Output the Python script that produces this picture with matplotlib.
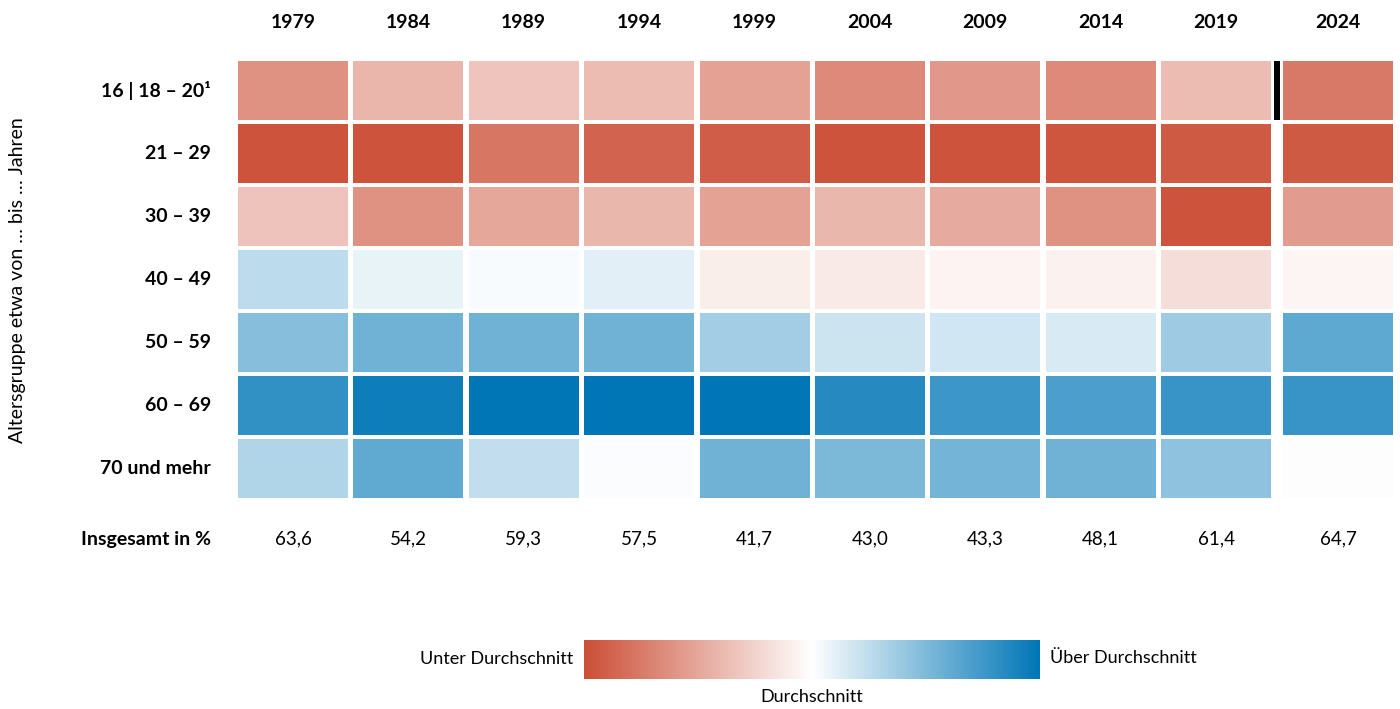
import numpy as np
import matplotlib
matplotlib.use("Agg")
import matplotlib.pyplot as plt
from matplotlib.colors import LinearSegmentedColormap

plt.rcParams['font.family'] = ['Lato', 'DejaVu Sans']

years = ["1979", "1984", "1989", "1994", "1999", "2004", "2009", "2014", "2019", "2024"]
groups = ["16 | 18 – 20¹", "21 – 29", "30 – 39", "40 – 49", "50 – 59", "60 – 69", "70 und mehr"]
totals = ["63,6", "54,2", "59,3", "57,5", "41,7", "43,0", "43,3", "48,1", "61,4", "64,7"]

# deviation from average, -1 = far below (red), +1 = far above (blue)
v_16_20 = [-0.62, -0.42, -0.33, -0.38, -0.53, -0.66, -0.58, -0.66, -0.38, -0.76]
v_21_29 = [-0.97, -0.97, -0.78, -0.88, -0.92, -0.97, -0.97, -0.96, -0.93, -0.93]
v_30_39 = [-0.34, -0.62, -0.50, -0.41, -0.53, -0.41, -0.48, -0.62, -0.97, -0.56]
v_40_49 = [0.26, 0.09, 0.03, 0.11, -0.10, -0.12, -0.07, -0.08, -0.19, -0.06]
v_50_59 = [0.47, 0.56, 0.56, 0.56, 0.36, 0.20, 0.18, 0.15, 0.38, 0.63]
v_60_69 = [0.80, 0.94, 1.00, 1.00, 1.00, 0.85, 0.76, 0.70, 0.78, 0.78]
v_70 = [0.31, 0.62, 0.24, 0.02, 0.56, 0.51, 0.54, 0.56, 0.44, -0.01]
values = np.array([v_16_20, v_21_29, v_30_39, v_40_49, v_50_59, v_60_69, v_70])

cmap = LinearSegmentedColormap.from_list(
    "rw_b", [(0.0, "#cc4f37"), (0.5, "#ffffff"), (1.0, "#0076b6")])

fig = plt.figure(figsize=(14, 7.09), dpi=100)
ax = fig.add_axes([0.17, 0.2976, 0.825, 0.616])

cw, ch = 0.953, 0.937
gap = 0.057  # the 2024 column sits a bit further right
xs = np.arange(len(years)) + np.where(np.arange(len(years)) == len(years) - 1, gap, 0.0)

for r in range(len(groups)):
    cols = [cmap((v + 1) / 2) for v in values[r]]
    ax.bar(xs, ch, width=cw, bottom=r - ch / 2, color=cols, linewidth=0)

# black separator before 2024 (first row only)
sep = (xs[-2] + cw / 2 + xs[-1] - cw / 2) / 2
ax.bar([sep], ch, width=0.052, bottom=-ch / 2, color="black", linewidth=0)

ax.set_xlim(-cw / 2, xs[-1] + cw / 2)
ax.set_ylim(len(groups) - 1 + ch / 2, -ch / 2)
ax.axis("off")

for x, y in zip(xs, years):
    ax.text(x, -1.09, y, ha="center", va="center", fontsize=14, fontweight="bold", clip_on=False)
for r, g in enumerate(groups):
    ax.text(-0.71, r, g, ha="right", va="center", fontsize=14, fontweight="bold", clip_on=False)
ax.text(-0.71, 7.12, "Insgesamt in %", ha="right", va="center", fontsize=14,
        fontweight="bold", clip_on=False)
for x, t in zip(xs, totals):
    ax.text(x, 7.12, t, ha="center", va="center", fontsize=13.5, clip_on=False)

fig.text(18 / 1400, 1 - 280 / 709, "Altersgruppe etwa von … bis … Jahren", rotation=90,
         ha="center", va="center", fontsize=14)

# colour legend
cax = fig.add_axes([584 / 1400, 1 - 679 / 709, 456 / 1400, 39 / 709])
cax.imshow(np.linspace(0, 1, 256)[None, :], aspect="auto", cmap=cmap)
cax.axis("off")
fig.text(573 / 1400, 1 - 659 / 709, "Unter Durchschnitt", ha="right", va="center", fontsize=13)
fig.text(1050 / 1400, 1 - 658 / 709, "Über Durchschnitt", ha="left", va="center", fontsize=13)
fig.text(812 / 1400, 1 - 697 / 709, "Durchschnitt", ha="center", va="center", fontsize=13)

fig.savefig("out.png", dpi=100)
